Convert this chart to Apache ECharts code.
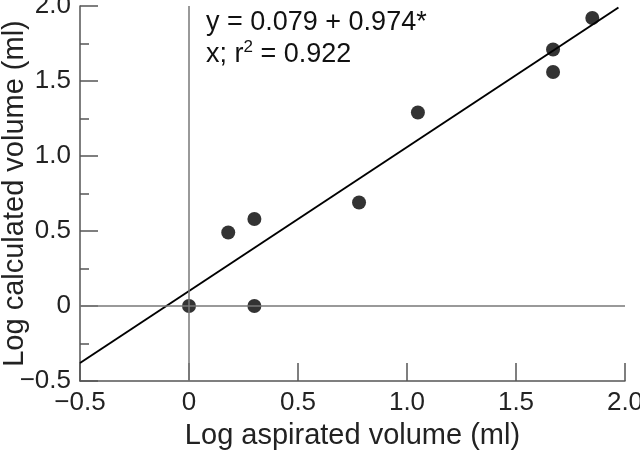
<!DOCTYPE html>
<html>
<head>
<meta charset="utf-8">
<script src="https://cdn.jsdelivr.net/npm/echarts@6/dist/echarts.min.js"></script>
<style>html,body{margin:0;padding:0;background:#fff;}#c{width:640px;height:452px;}</style>
</head>
<body>
<div id="c"></div>
<script>
const aspirated = [0.0, 0.3, 0.18, 0.3, 0.78, 1.05, 1.67, 1.67, 1.85];
const calculated = [0.0, 0.0, 0.49, 0.58, 0.69, 1.29, 1.71, 1.56, 1.92];
const fitX = [-0.5, 1.97];
const fitY = [-0.38, 1.99];
const xTicks = [-0.5, 0, 0.5, 1.0, 1.5, 2.0];
const yTicks = [-0.5, 0, 0.5, 1.0, 1.5, 2.0];
const xTitle = 'Log aspirated volume (ml)';
const yTitle = 'Log calculated volume (ml)';

const fmt = v => {
  const r = Math.round(v * 10) / 10;
  if (r === 0) return '0';
  return (r < 0 ? '\u2212' : '') + Math.abs(r).toFixed(1);
};

const chart = echarts.init(document.getElementById('c'), null, {renderer: 'canvas'});
const FONT = '"Liberation Sans", Arial, sans-serif';
chart.setOption({
  animation: false,
  backgroundColor: '#ffffff',
  grid: {left: 80, right: 15, top: 6, bottom: 71, containLabel: false, outerBoundsMode: 'none'},
  xAxis: {
    type: 'value', min: xTicks[0], max: xTicks[xTicks.length - 1], interval: 0.5,
    name: xTitle, nameLocation: 'middle', nameGap: 40, nameMoveOverlap: false,
    nameTextStyle: {fontFamily: FONT, fontSize: 29, color: '#222'},
    axisLine: {show: true, onZero: false, lineStyle: {color: '#555', width: 1.5}},
    axisTick: {show: true, inside: true, length: 18, lineStyle: {color: '#555', width: 1.5}},
    axisLabel: {fontFamily: FONT, fontSize: 26, color: '#222', margin: 9, formatter: fmt},
    splitLine: {show: false}
  },
  yAxis: {
    type: 'value', min: yTicks[0], max: yTicks[yTicks.length - 1], interval: 0.5,
    name: yTitle, nameLocation: 'middle', nameGap: 51, nameMoveOverlap: false,
    nameTextStyle: {fontFamily: FONT, fontSize: 29, color: '#222'},
    axisLine: {show: true, onZero: false, lineStyle: {color: '#555', width: 1.5}},
    axisTick: {show: true, inside: true, length: 18, lineStyle: {color: '#555', width: 1.5}},
    minorTick: {show: true, splitNumber: 2, length: 9, lineStyle: {color: '#555', width: 1.5}},
    axisLabel: {fontFamily: FONT, fontSize: 26, color: '#222', margin: 9, formatter: fmt},
    splitLine: {show: false}
  },
  series: [
    {
      type: 'line',
      data: fitX.map((x, i) => [x, fitY[i]]),
      symbol: 'none',
      lineStyle: {color: '#000', width: 2},
      z: 3,
      markLine: {
        silent: true, symbol: 'none', label: {show: false},
        lineStyle: {color: '#777', width: 1.5, type: 'solid'},
        data: [{xAxis: 0}, {yAxis: 0}]
      }
    },
    {
      type: 'scatter',
      data: aspirated.map((x, i) => [x, calculated[i]]),
      symbol: 'circle', symbolSize: 14,
      itemStyle: {color: '#000'},
      z: 4
    }
  ],
  graphic: [{
    type: 'text', left: 206, top: 9, z: 10,
    style: {
      text: '{a|y = 0.079 + 0.974*}\n{a|x; r}{s|2}{a| = 0.922}',
      fill: '#111',
      rich: {
        a: {fontFamily: FONT, fontSize: 27, lineHeight: 32, fill: '#111'},
        s: {fontFamily: FONT, fontSize: 17, lineHeight: 32, verticalAlign: 'top', fill: '#111'}
      }
    }
  }]
});
</script>
</body>
</html>
